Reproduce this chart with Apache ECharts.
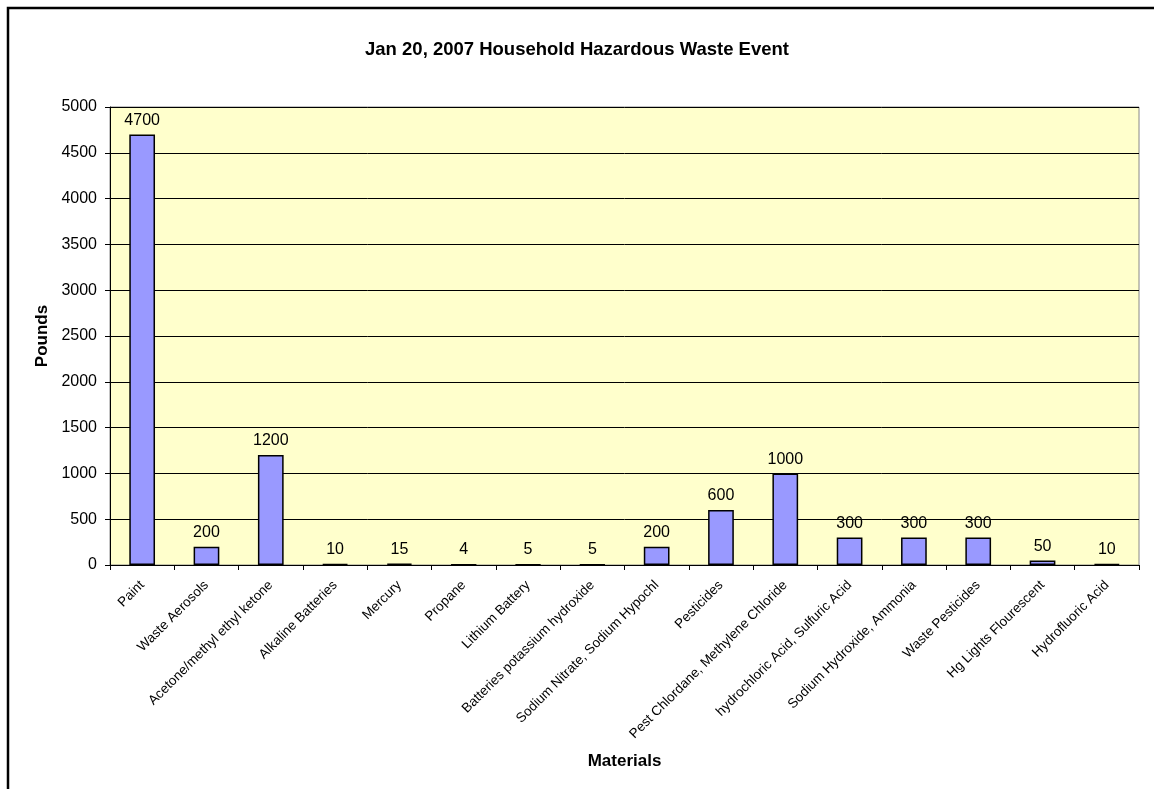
<!DOCTYPE html>
<html><head><meta charset="utf-8">
<script src="https://cdn.jsdelivr.net/npm/echarts@6/dist/echarts.min.js"></script>
<style>html,body{margin:0;padding:0;background:#fff}#c{width:1154px;height:789px}</style>
</head><body><div id="c"></div>
<script>
const categories = ["Paint","Waste Aerosols","Acetone/methyl ethyl ketone","Alkaline Batteries","Mercury","Propane","Lithium Battery","Batteries potassium hydroxide","Sodium Nitrate, Sodium Hypochl","Pesticides","Pest Chlordane, Methylene Chloride","hydrochloric Acid, Sulfuric Acid","Sodium Hydroxide, Ammonia","Waste Pesticides","Hg Lights Flourescent","Hydrofluoric Acid"];
const pounds = [4700,200,1200,10,15,4,5,5,200,600,1000,300,300,300,50,10];
const yTicks = {min:0,max:5000,interval:500};
const titleText = "Jan 20, 2007 Household Hazardous Waste Event";
const F = "'Liberation Sans', Arial, sans-serif";
const chart = echarts.init(document.getElementById('c'));
chart.setOption({
  animation:false,
  backgroundColor:'#fff',
  title:{text:titleText,left:'center',top:35,textStyle:{fontFamily:F,fontSize:18.5,fontWeight:'bold',color:'#000'}},
  graphic:[{type:'rect',shape:{x:8,y:8,width:1160,height:800},style:{fill:'none',stroke:'#000',lineWidth:2.5},silent:true,z:-1}],
  grid:{left:110,right:15,top:107,bottom:224,backgroundColor:'#FFFFCC',show:true,borderColor:'#888',borderWidth:1},
  xAxis:{type:'category',data:categories,name:'Materials',nameLocation:'middle',nameGap:188,
    nameTextStyle:{fontFamily:F,fontSize:17,fontWeight:'bold',color:'#000'},
    axisLine:{lineStyle:{color:'#000'}},axisTick:{show:true,alignWithLabel:false,length:5,lineStyle:{color:'#000'}},
    axisLabel:{rotate:45,interval:0,fontFamily:F,fontSize:13.5,color:'#000',margin:18}},
  yAxis:{type:'value',min:yTicks.min,max:yTicks.max,interval:yTicks.interval,name:'Pounds',nameLocation:'middle',nameGap:58,
    nameTextStyle:{fontFamily:F,fontSize:17,fontWeight:'bold',color:'#000'},
    axisLine:{show:true,lineStyle:{color:'#000'}},axisTick:{show:true,length:5,lineStyle:{color:'#000'}},
    splitLine:{lineStyle:{color:'#000',width:1}},
    axisLabel:{fontFamily:F,fontSize:16,color:'#000',margin:13,formatter:v=>String(v)}},
  series:[{type:'bar',data:pounds,barWidth:'40%',
    itemStyle:{color:'#9999FF',borderColor:'#000',borderWidth:1.5},
    label:{show:true,position:'top',distance:6,fontFamily:F,fontSize:16,color:'#000'}}]
});
</script></body></html>
